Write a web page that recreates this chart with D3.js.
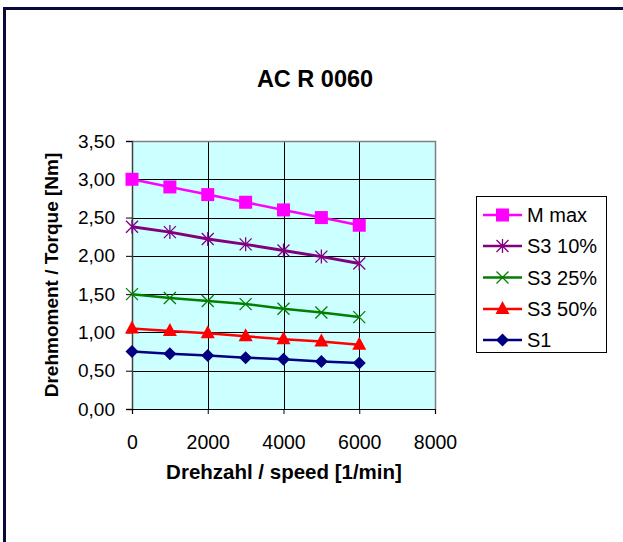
<!DOCTYPE html>
<html><head><meta charset="utf-8">
<script src="https://cdn.jsdelivr.net/npm/d3@7"></script>
<style>body{margin:0;background:#fff;}svg{display:block;font-family:"Liberation Sans",Arial,sans-serif;}</style>
</head><body><svg id="c" width="623" height="542"></svg>
<script>
const title = "AC R 0060";
const xLabel = "Drehzahl / speed [1/min]";
const yLabel = "Drehmoment / Torque [Nm]";
const speeds = [0, 1000, 2000, 3000, 4000, 5000, 6000];
const xTicks = [0, 2000, 4000, 6000, 8000];
const yTicks = [0, 0.5, 1, 1.5, 2, 2.5, 3, 3.5];
const seriesNames = ["M max", "S3 10%", "S3 25%", "S3 50%", "S1"];
const mMax  = [3.00, 2.90, 2.80, 2.70, 2.60, 2.50, 2.40];
const s3_10 = [2.38, 2.31, 2.22, 2.15, 2.07, 1.99, 1.90];
const s3_25 = [1.50, 1.45, 1.41, 1.37, 1.31, 1.26, 1.20];
const s3_50 = [1.05, 1.02, 0.99, 0.95, 0.91, 0.88, 0.84];
const s1    = [0.75, 0.72, 0.70, 0.67, 0.65, 0.62, 0.60];
const seriesValues = [mMax, s3_10, s3_25, s3_50, s1];
const colors = ["#FF00FF", "#800080", "#008000", "#FF0000", "#000080"];
const markers = ["square", "star", "x", "triangle", "diamond"];

const svg = d3.select("#c");
svg.append("path").attr("d", "M4.5,542 V8.5 H623").attr("fill", "none").attr("stroke", "#0a0a3a").attr("stroke-width", 3);

const L = 132, R = 435, T = 141, B = 409;
const x = d3.scaleLinear().domain([0, 8000]).range([L, R]);
const y = d3.scaleLinear().domain([0, 3.5]).range([B, T]);

svg.append("rect").attr("x", L).attr("y", T).attr("width", R - L).attr("height", B - T).attr("fill", "#CCFFFF");
svg.append("g").selectAll("line").data(yTicks.filter(d => d > 0 && d < 3.5)).join("line")
  .attr("x1", L).attr("x2", R).attr("y1", d => Math.round(y(d)) + 0.5).attr("y2", d => Math.round(y(d)) + 0.5).attr("stroke", "#000").attr("stroke-width", 1);
svg.append("g").selectAll("line").data(xTicks.filter(d => d > 0 && d < 8000)).join("line")
  .attr("x1", d => Math.round(x(d)) + 0.5).attr("x2", d => Math.round(x(d)) + 0.5).attr("y1", T).attr("y2", B).attr("stroke", "#000").attr("stroke-width", 1);
svg.append("path").attr("d", `M${L},${T+0.5} H${R+0.5} V${B}`).attr("fill", "none").attr("stroke", "#808080").attr("stroke-width", 1.5);

const fmt = d3.format(".2f");
const yAxis = d3.axisLeft(y).tickValues(yTicks).tickSize(6).tickPadding(11).tickFormat(d => fmt(d).replace(".", ","));
const gy = svg.append("g").attr("transform", `translate(${L},0)`).call(yAxis);
gy.select(".domain").attr("stroke", "#404040").attr("stroke-width", 1.5);
gy.selectAll(".tick line").attr("stroke", "#000");
gy.selectAll("text").attr("font-size", 19).attr("fill", "#000").attr("font-family", "Liberation Sans, Arial, sans-serif");
const xAxis = d3.axisBottom(x).tickValues(xTicks).tickSize(5).tickPadding(21).tickFormat(d3.format("d"));
const gx = svg.append("g").attr("transform", `translate(0,${B})`).call(xAxis);
gx.select(".domain").attr("stroke", "#000").attr("stroke-width", 1.2);
gx.selectAll(".tick line").attr("stroke", "#000");
gx.selectAll("text").attr("font-size", 19.5).attr("fill", "#000").attr("font-family", "Liberation Sans, Arial, sans-serif");

function drawMarker(g, type, color, cx, cy) {
  if (type === "square") {
    g.append("rect").attr("x", cx - 6.5).attr("y", cy - 6.5).attr("width", 13).attr("height", 13).attr("fill", color);
  } else if (type === "triangle") {
    g.append("path").attr("d", `M${cx},${cy-8} L${cx+7},${cy+5} L${cx-7},${cy+5}Z`).attr("fill", color);
  } else if (type === "diamond") {
    g.append("path").attr("d", `M${cx},${cy-6.5} L${cx+6.5},${cy} L${cx},${cy+6.5} L${cx-6.5},${cy}Z`).attr("fill", color);
  } else if (type === "x") {
    g.append("path").attr("d", `M${cx-6},${cy-6} L${cx+6},${cy+6} M${cx+6},${cy-6} L${cx-6},${cy+6}`).attr("stroke", color).attr("stroke-width", 1.3);
  } else if (type === "star") {
    g.append("path").attr("d", `M${cx-6},${cy-6} L${cx+6},${cy+6} M${cx+6},${cy-6} L${cx-6},${cy+6} M${cx},${cy-7} L${cx},${cy+7}`).attr("stroke", color).attr("stroke-width", 1.3);
  }
}

const line = d3.line().x((d, i) => x(speeds[i])).y(d => y(d));
seriesValues.forEach((vals, si) => {
  const g = svg.append("g");
  g.append("path").attr("d", line(vals)).attr("fill", "none").attr("stroke", colors[si]).attr("stroke-width", si === 1 ? 3 : 2.5);
  vals.forEach((v, i) => drawMarker(g, markers[si], colors[si], x(speeds[i]), y(v)));
});

svg.append("text").attr("x", 315).attr("y", 87).attr("text-anchor", "middle").attr("font-weight", "bold").attr("font-size", 23.5).text(title);
svg.append("text").attr("x", 284).attr("y", 479).attr("text-anchor", "middle").attr("font-weight", "bold").attr("font-size", 20.5).text(xLabel);
svg.append("text").attr("transform", "translate(58,275) rotate(-90)").attr("text-anchor", "middle").attr("font-weight", "bold").attr("font-size", 19).text(yLabel);

const lg = svg.append("g");
lg.append("rect").attr("x", 476.5).attr("y", 196.5).attr("width", 130).attr("height", 156).attr("fill", "#fff").attr("stroke", "#000").attr("stroke-width", 1);
const ly = [215, 246, 277.5, 309, 340];
seriesNames.forEach((n, i) => {
  lg.append("line").attr("x1", 483).attr("x2", 522).attr("y1", ly[i]).attr("y2", ly[i]).attr("stroke", colors[i]).attr("stroke-width", 2.5);
  drawMarker(lg, markers[i], colors[i], 502.5, ly[i]);
  lg.append("text").attr("x", 527).attr("y", ly[i] + 7).attr("font-size", 20).text(n);
});
</script></body></html>
